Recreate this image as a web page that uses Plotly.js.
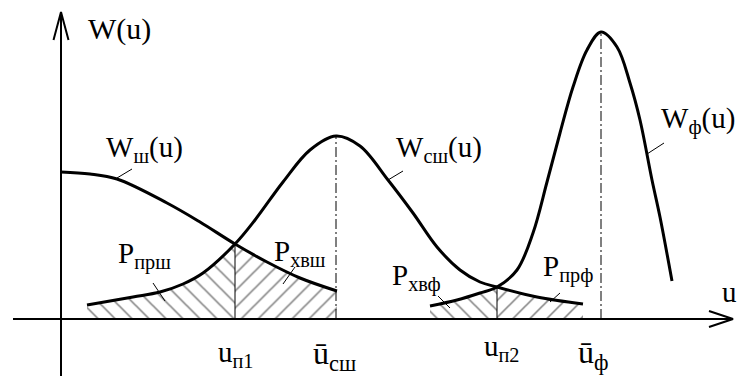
<!DOCTYPE html>
<html>
<head>
<meta charset="utf-8">
<script src="https://cdn.plot.ly/plotly-3.0.1.min.js"></script>
<style>
html, body { margin: 0; padding: 0; background: #fff; }
#myDiv { width: 738px; height: 376px; }
</style>
</head>
<body>
<div id="myDiv"></div>
<script>
// кривая W_ш(u)
const u_sh  = [0, 2.9, 5.6, 10.6, 13.9, 17.4, 20.6, 23.9, 27.6]
const w_sh  = [14.7, 14.5, 14.0, 11.6, 9.7, 7.5, 5.7, 4.1, 2.8]

// кривая W_сш(u)
const u_ssh = [2.6, 7.2, 9.9, 12.2, 14.2, 17.4, 19.4, 22.2, 24.9, 27.5, 29.9, 32.7, 35.2, 37.6, 39.9, 41.9, 43.6, 47.6, 52.2]
const w_ssh = [1.4, 2.2, 2.7, 3.5, 4.6, 7.5, 9.9, 13.7, 16.9, 18.3, 17.3, 13.9, 10.6, 7.2, 4.9, 3.7, 3.2, 2.2, 1.5]

// кривая W_ф(u)
const u_f   = [36.9, 39.6, 41.9, 43.6, 45.6, 47.2, 48.6, 49.9, 51.2, 52.6, 54.0, 55.6, 56.9, 57.9, 59.1, 59.9, 61.1]
const w_f   = [1.3, 1.9, 2.6, 3.2, 4.9, 8.6, 13.7, 18.6, 23.2, 26.9, 28.7, 27.2, 23.6, 19.9, 13.9, 10.2, 3.8]

// индексы точек пересечения и вершин
const cross1_ssh = 5, cross1_sh = 5
const cross2_ssh = 16, cross2_f = 3
const peak_ssh = 9, peak_f = 10

// оси
const axisU = [-4.8, 67.2]
const axisW = [-5.7, 30.7]

// выноски (x0, y0, x1, y1)
const leaders = [
	[5.6, 14.1, 7.1, 15.0],
	[32.7, 13.9, 34.2, 14.8],
	[58.6, 16.5, 60.3, 17.6],
	[9.2, 3.6, 10.4, 1.8],
	[22.2, 3.5, 23.4, 5.2],
	[37.7, 2.3, 38.9, 1.1],
	[48.9, 1.7, 49.9, 2.6]
]

// подписи
const labels = [
	['W(u)', 2.5, 29.0, 30],
	['W<sub>ш</sub>(u)', 4.3, 17.0, 29],
	['W<sub>сш</sub>(u)', 33.3, 17.0, 29],
	['W<sub>ф</sub>(u)', 59.8, 19.9, 29],
	['P<sub>прш</sub>', 5.5, 6.4, 29],
	['P<sub>хвш</sub>', 21.1, 6.6, 29],
	['P<sub>хвф</sub>', 32.9, 4.2, 29],
	['P<sub>прф</sub>', 48.0, 5.1, 29],
	['u<sub>п1</sub>', 15.5, -3.5, 29],
	['ū<sub>сш</sub>', 25.0, -3.6, 32],
	['u<sub>п2</sub>', 42.1, -2.9, 29],
	['ū<sub>ф</sub>', 51.5, -3.5, 32],
	['u', 65.9, 2.7, 29]
]

const ink = 'black'

function hatch(x, y, shape) {
	return {x:x, y:y, type:'scatter', mode:'lines', fill:'tozeroy',
		line:{width:0, shape:'spline', color:ink},
		fillcolor:'rgba(0,0,0,0)',
		fillpattern:{shape:shape, size:12, solidity:0.13, fgcolor:ink, bgcolor:'white', fillmode:'overlay'},
		hoverinfo:'skip'}
}

function curve(x, y) {
	return {x:x, y:y, type:'scatter', mode:'lines', line:{width:3, shape:'spline', color:ink}, hoverinfo:'skip'}
}

function thin(x, y, dash) {
	return {x:x, y:y, type:'scatter', mode:'lines', line:{width:1, color:ink, dash:dash || 'solid'}, hoverinfo:'skip'}
}

// штриховка
const h1 = hatch(u_ssh.slice(0, cross1_ssh + 1), w_ssh.slice(0, cross1_ssh + 1), '\\')
const h2 = hatch(u_sh.slice(cross1_sh), w_sh.slice(cross1_sh), '/')
const h3 = hatch(u_f.slice(0, cross2_f + 1), w_f.slice(0, cross2_f + 1), '\\')
const h4 = hatch(u_ssh.slice(cross2_ssh), w_ssh.slice(cross2_ssh), '/')

// вертикали в точках пересечения
const v1 = thin([u_sh[cross1_sh], u_sh[cross1_sh]], [0, w_sh[cross1_sh]])
const v2 = thin([u_f[cross2_f], u_f[cross2_f]], [0, w_f[cross2_f]])

// штрихпунктир от вершин
const d1 = thin([u_ssh[peak_ssh], u_ssh[peak_ssh]], [0, w_ssh[peak_ssh]], '10px,3px,2px,3px')
const d2 = thin([u_f[peak_f], u_f[peak_f]], [0, w_f[peak_f]], '10px,3px,2px,3px')

// выноски
let lx = [], ly = []
for(let i = 0; i < leaders.length; i++) {
	lx.push(leaders[i][0], leaders[i][2], null)
	ly.push(leaders[i][1], leaders[i][3], null)
}
const lead = thin(lx, ly)

// оси со стрелками
const ax = {x:[axisU[0], axisU[1], null, axisU[1] - 2.4, axisU[1], axisU[1] - 2.4],
	y:[0, 0, null, 0.8, 0, -0.8],
	type:'scatter', mode:'lines', line:{width:2, color:ink}, hoverinfo:'skip'}
const ay = {x:[0, 0, null, -0.75, 0, 0.75],
	y:[axisW[0], axisW[1], null, axisW[1] - 2.8, axisW[1], axisW[1] - 2.8],
	type:'scatter', mode:'lines', line:{width:2, color:ink}, hoverinfo:'skip'}

const data = [
	h1, h2, h3, h4,
	v1, v2, d1, d2, lead, ax, ay,
	curve(u_sh, w_sh), curve(u_ssh, w_ssh), curve(u_f, w_f)
]

const annotations = labels.map(l => ({
	text:l[0], x:l[1], y:l[2], xref:'x', yref:'y',
	xanchor:'left', yanchor:'middle', showarrow:false,
	font:{family:'Liberation Serif, Times New Roman, serif', size:l[3], color:ink}
}))

const layout = {
	width: 738,
	height: 376,
	margin: {l:0, r:0, t:0, b:0},
	paper_bgcolor: 'white',
	plot_bgcolor: 'white',
	showlegend: false,
	xaxis: {range:[-6.1, 67.7], visible:false, fixedrange:true},
	yaxis: {range:[-5.7, 31.9], visible:false, fixedrange:true},
	annotations: annotations
}

const config = {
	displayModeBar: false,
	staticPlot: true
}

Plotly.newPlot('myDiv', data, layout, config)
</script>
</body>
</html>
